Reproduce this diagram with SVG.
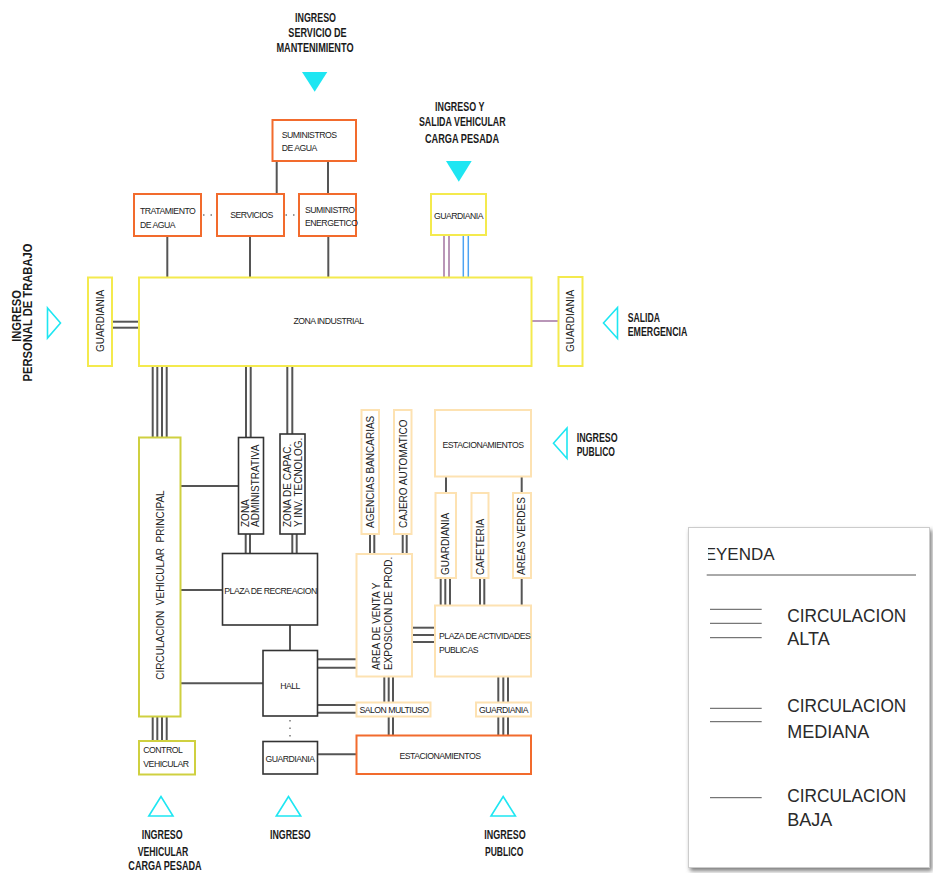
<svg xmlns="http://www.w3.org/2000/svg" width="933" height="873" viewBox="0 0 933 873">
<defs>
<style>
.t{font-family:"Liberation Sans",Arial,sans-serif;font-size:8.7px;fill:#222;letter-spacing:-0.5px}
.v{font-family:"Liberation Sans",Arial,sans-serif;font-size:10px;fill:#222}
.m{text-anchor:middle}
.b{font-family:"Liberation Sans",Arial,sans-serif;font-size:12.5px;font-weight:bold;fill:#1a1a1a}
.lg{font-family:"Liberation Sans",Arial,sans-serif;font-size:18px;fill:#2a2a2a}
.or{fill:#fff;stroke:#f26b2d;stroke-width:2}
.ye{fill:#fff;stroke:#f4ea4e;stroke-width:2}
.ol{fill:#fff;stroke:#cfd040;stroke-width:2}
.bk{fill:#fff;stroke:#333;stroke-width:1.6}
.pe{fill:#fff;stroke:#fde2b2;stroke-width:2}
.c line{stroke:#555;stroke-width:2}
.pu{stroke:#a273a0 !important;stroke-width:1.5 !important}
.bl{stroke:#4da3f2 !important;stroke-width:1.5 !important}
.dot{stroke:#777 !important;stroke-width:1.5 !important;stroke-dasharray:1.5 6}
.tf{fill:#1ee6f2}
.to{fill:none;stroke:#1ee6f2;stroke-width:1.6}
.lgl{stroke:#555;stroke-width:1}
</style>
<filter id="sh" x="-10%" y="-10%" width="130%" height="130%">
<feDropShadow dx="2" dy="3" stdDeviation="2" flood-color="#555" flood-opacity="0.75"/>
</filter>
<clipPath id="lgclip"><rect x="708" y="530" width="220" height="40"/></clipPath>
</defs>
<rect width="933" height="873" fill="#fff"/>

<g id="connectors" class="c">
<line x1="276.7" y1="161" x2="276.7" y2="194"/>
<line x1="328" y1="161" x2="328" y2="194"/>
<line x1="167.3" y1="236" x2="167.3" y2="278"/>
<line x1="250" y1="236" x2="250" y2="278"/>
<line x1="328.3" y1="236" x2="328.3" y2="278"/>
<line class="dot" x1="203" y1="215" x2="216" y2="215"/>
<line class="dot" x1="285.5" y1="215" x2="298" y2="215"/>
<line class="pu" x1="444" y1="235" x2="444" y2="277"/>
<line class="pu" x1="449" y1="235" x2="449" y2="277"/>
<line class="bl" x1="463.3" y1="235" x2="463.3" y2="277"/>
<line class="bl" x1="468.3" y1="235" x2="468.3" y2="277"/>
<line x1="112" y1="321.7" x2="139" y2="321.7"/>
<line x1="112" y1="327.7" x2="139" y2="327.7"/>
<line class="pu" x1="531" y1="321" x2="559" y2="321"/>
<line x1="152.7" y1="366" x2="152.7" y2="438"/>
<line x1="157.3" y1="366" x2="157.3" y2="438"/>
<line x1="162" y1="366" x2="162" y2="438"/>
<line x1="166.7" y1="366" x2="166.7" y2="438"/>
<line x1="246" y1="366" x2="246" y2="438"/>
<line x1="250.7" y1="366" x2="250.7" y2="438"/>
<line x1="287.3" y1="366" x2="287.3" y2="434"/>
<line x1="292.3" y1="366" x2="292.3" y2="434"/>
<line x1="180" y1="486" x2="238.5" y2="486"/>
<line x1="180" y1="590" x2="222.5" y2="590"/>
<line x1="180" y1="683.3" x2="263" y2="683.3"/>
<line x1="152.7" y1="716" x2="152.7" y2="741"/>
<line x1="157.3" y1="716" x2="157.3" y2="741"/>
<line x1="162" y1="716" x2="162" y2="741"/>
<line x1="166.7" y1="716" x2="166.7" y2="741"/>
<line x1="245.7" y1="534" x2="245.7" y2="553.5"/>
<line x1="250" y1="534" x2="250" y2="553.5"/>
<line x1="292.3" y1="534" x2="292.3" y2="553.5"/>
<line x1="296.7" y1="534" x2="296.7" y2="553.5"/>
<line x1="290" y1="625" x2="290" y2="650.5"/>
<line class="dot" x1="290" y1="720" x2="290" y2="741"/>
<line x1="317.5" y1="659.3" x2="356.5" y2="659.3"/>
<line x1="317.5" y1="667.7" x2="356.5" y2="667.7"/>
<line x1="317.5" y1="705" x2="356.5" y2="705"/>
<line x1="317.5" y1="712.7" x2="356.5" y2="712.7"/>
<line x1="317.5" y1="754.3" x2="356.5" y2="754.3"/>
<line x1="370" y1="534" x2="370" y2="554"/>
<line x1="374.3" y1="534" x2="374.3" y2="554"/>
<line x1="402.7" y1="534" x2="402.7" y2="554"/>
<line x1="406.7" y1="534" x2="406.7" y2="554"/>
<line x1="412" y1="627.7" x2="435" y2="627.7"/>
<line x1="412" y1="635" x2="435" y2="635"/>
<line x1="412" y1="642" x2="435" y2="642"/>
<line x1="384.3" y1="676.5" x2="384.3" y2="702.5"/>
<line x1="388.7" y1="676.5" x2="388.7" y2="702.5"/>
<line x1="393" y1="676.5" x2="393" y2="702.5"/>
<line x1="388.7" y1="716.5" x2="388.7" y2="735.5"/>
<line x1="393" y1="716.5" x2="393" y2="735.5"/>
<line x1="498.3" y1="676.5" x2="498.3" y2="702.5"/>
<line x1="503.3" y1="676.5" x2="503.3" y2="702.5"/>
<line x1="508" y1="676.5" x2="508" y2="702.5"/>
<line x1="498.3" y1="716.5" x2="498.3" y2="735.5"/>
<line x1="503.3" y1="716.5" x2="503.3" y2="735.5"/>
<line x1="508" y1="716.5" x2="508" y2="735.5"/>
<line x1="446" y1="476.5" x2="446" y2="493"/>
<line x1="521.7" y1="476.5" x2="521.7" y2="493"/>
<line x1="440.7" y1="578" x2="440.7" y2="605.5"/>
<line x1="445.3" y1="578" x2="445.3" y2="605.5"/>
<line x1="450" y1="578" x2="450" y2="605.5"/>
<line x1="480" y1="578" x2="480" y2="605.5"/>
<line x1="484.3" y1="578" x2="484.3" y2="605.5"/>
<line x1="521.7" y1="578" x2="521.7" y2="605.5"/>
</g>

<g id="suministros-agua"><rect class="or" x="272.5" y="120" width="83.5" height="41"/><text class="t" x="281.7" y="137.5">SUMINISTROS</text><text class="t" x="281.7" y="150.5">DE AGUA</text></g>
<g id="tratamiento-agua"><rect class="or" x="134" y="194" width="67" height="42"/><text class="t" x="140" y="214">TRATAMIENTO</text><text class="t" x="140" y="227.5">DE AGUA</text></g>
<g id="servicios"><rect class="or" x="217" y="194" width="67" height="42"/><text class="t m" x="251.5" y="217.5">SERVICIOS</text></g>
<g id="suministro-energetico"><rect class="or" x="299" y="194" width="57" height="42"/><text class="t" x="305" y="212.5">SUMINISTRO</text><text class="t" x="305" y="225.5">ENERGETICO</text></g>
<g id="guardiania-carga"><rect class="ye" x="431" y="194" width="55" height="41"/><text class="t m" x="458.5" y="219">GUARDIANIA</text></g>
<g id="zona-industrial"><rect class="ye" x="139" y="277.5" width="392.5" height="88.5"/><text class="t m" x="328.5" y="324">ZONA INDUSTRIAL</text></g>
<g id="guardiania-personal"><rect class="ye" x="88" y="277.5" width="24" height="88.5"/><text class="v m" transform="translate(103.5,321) rotate(-90)">GUARDIANIA</text></g>
<g id="guardiania-emergencia"><rect class="ye" x="558.5" y="277" width="24" height="89"/><text class="v m" transform="translate(574,321) rotate(-90)">GUARDIANIA</text></g>
<g id="circulacion-vehicular"><rect class="ol" x="139" y="437.5" width="41.5" height="279"/><text class="v m" style="white-space:pre" transform="translate(163.5,585) rotate(-90)">CIRCULACION  VEHICULAR  PRINCIPAL</text></g>
<g id="control-vehicular"><rect class="ol" x="139" y="741" width="56" height="33.5"/><text class="t" x="143.3" y="753">CONTROL</text><text class="t" x="143.3" y="767">VEHICULAR</text></g>
<g id="zona-administrativa"><rect class="bk" x="238.5" y="437.5" width="25" height="96.5"/><text class="v" transform="translate(249,527) rotate(-90)">ZONA</text><text class="v" transform="translate(258.5,527) rotate(-90)">ADMINISTRATIVA</text></g>
<g id="zona-capacitacion"><rect class="bk" x="280" y="434" width="25" height="100"/><text class="v" transform="translate(290.7,527) rotate(-90)">ZONA DE CAPAC.</text><text class="v" transform="translate(301.7,527) rotate(-90)">Y INV. TECNOLOG.</text></g>
<g id="plaza-recreacion"><rect class="bk" x="222.5" y="553.5" width="95" height="71.5"/><text class="t m" x="270.5" y="593.5">PLAZA DE RECREACION</text></g>
<g id="hall"><rect class="bk" x="263" y="650.5" width="54.5" height="65.5"/><text class="t m" x="290" y="688.5">HALL</text></g>
<g id="guardiania-ingreso"><rect class="bk" x="263" y="741.5" width="54.5" height="32.5"/><text class="t m" x="290" y="761.5">GUARDIANIA</text></g>
<g id="agencias-bancarias"><rect class="pe" x="361.5" y="410" width="17.5" height="124"/><text class="v" transform="translate(373.8,528) rotate(-90)">AGENCIAS BANCARIAS</text></g>
<g id="cajero-automatico"><rect class="pe" x="394" y="410" width="17.5" height="124"/><text class="v" transform="translate(406.5,528) rotate(-90)">CAJERO AUTOMATICO</text></g>
<g id="estacionamientos-publico"><rect class="pe" x="435" y="410" width="96" height="66.5"/><text class="t m" x="483" y="447.5">ESTACIONAMIENTOS</text></g>
<g id="guardiania-plaza"><rect class="pe" x="435.5" y="493" width="20.5" height="85"/><text class="v" transform="translate(449,575) rotate(-90)">GUARDIANIA</text></g>
<g id="cafeteria"><rect class="pe" x="471.5" y="493" width="17" height="85"/><text class="v" transform="translate(483.7,575) rotate(-90)">CAFETERIA</text></g>
<g id="areas-verdes"><rect class="pe" x="513" y="493" width="18" height="85"/><text class="v" transform="translate(524.7,575) rotate(-90)">AREAS VERDES</text></g>
<g id="area-venta"><rect class="pe" x="356.5" y="554" width="55.5" height="122.5"/><text class="v" transform="translate(380.3,670) rotate(-90)">AREA DE VENTA Y</text><text class="v" transform="translate(392,670) rotate(-90)">EXPOSICION DE PROD.</text></g>
<g id="plaza-actividades"><rect class="pe" x="435" y="605.5" width="96" height="71"/><text class="t" x="439" y="639">PLAZA DE ACTIVIDADES</text><text class="t" x="439" y="652.5">PUBLICAS</text></g>
<g id="salon-multiuso"><rect class="pe" x="356.5" y="702.5" width="74" height="14"/><text class="t m" x="394" y="712.5">SALON MULTIUSO</text></g>
<g id="guardiania-publico"><rect class="pe" x="476" y="702.5" width="55" height="14"/><text class="t m" x="503.5" y="712.5">GUARDIANIA</text></g>
<g id="estacionamientos"><rect class="or" x="356.5" y="735.5" width="174.5" height="38.5"/><text class="t m" x="440" y="759">ESTACIONAMIENTOS</text></g>

<g id="ingreso-mantenimiento">
<text class="b m" x="315.5" y="21.7" textLength="41" lengthAdjust="spacingAndGlyphs">INGRESO</text>
<text class="b m" x="317.5" y="37" textLength="58.3" lengthAdjust="spacingAndGlyphs">SERVICIO DE</text>
<text class="b m" x="315" y="51.5" textLength="77" lengthAdjust="spacingAndGlyphs">MANTENIMIENTO</text>
<polygon class="tf" points="302,72 327.3,72 314.7,91.7"/>
</g>
<g id="ingreso-carga-pesada">
<text class="b m" x="459.7" y="111" textLength="49.3" lengthAdjust="spacingAndGlyphs">INGRESO Y</text>
<text class="b m" x="462.3" y="126" textLength="86.7" lengthAdjust="spacingAndGlyphs">SALIDA VEHICULAR</text>
<text class="b m" x="462" y="142.5" textLength="74" lengthAdjust="spacingAndGlyphs">CARGA PESADA</text>
<polygon class="tf" points="446,161 471.7,161 458.8,181.7"/>
</g>
<g id="ingreso-personal">
<text class="b m" transform="translate(20.7,316) rotate(-90)" textLength="51.7" lengthAdjust="spacingAndGlyphs">INGRESO</text>
<text class="b m" transform="translate(31.7,312.5) rotate(-90)" textLength="138" lengthAdjust="spacingAndGlyphs">PERSONAL DE TRABAJO</text>
<polygon class="to" points="47.5,308 60.5,323 47.5,338"/>
</g>
<g id="salida-emergencia">
<text class="b" x="627.7" y="321.7" textLength="32.3" lengthAdjust="spacingAndGlyphs">SALIDA</text>
<text class="b" x="627.7" y="336" textLength="59.7" lengthAdjust="spacingAndGlyphs">EMERGENCIA</text>
<polygon class="to" points="617.5,307.5 603.5,323 617.5,338.5"/>
</g>
<g id="ingreso-publico-derecha">
<text class="b" x="576.7" y="441.7" textLength="41" lengthAdjust="spacingAndGlyphs">INGRESO</text>
<text class="b" x="576.7" y="456" textLength="38.3" lengthAdjust="spacingAndGlyphs">PUBLICO</text>
<polygon class="to" points="567,428 553.5,443.3 567,458.5"/>
</g>
<g id="ingreso-vehicular-carga">
<polygon class="to" points="161,796.5 148.8,816 173,816"/>
<text class="b m" x="162.2" y="839" textLength="41" lengthAdjust="spacingAndGlyphs">INGRESO</text>
<text class="b m" x="163" y="855.5" textLength="50.7" lengthAdjust="spacingAndGlyphs">VEHICULAR</text>
<text class="b m" x="165" y="869.5" textLength="73.3" lengthAdjust="spacingAndGlyphs">CARGA PESADA</text>
</g>
<g id="ingreso-principal">
<polygon class="to" points="288.5,796.5 276.3,816 300.7,816"/>
<text class="b m" x="290.3" y="839" textLength="40.7" lengthAdjust="spacingAndGlyphs">INGRESO</text>
</g>
<g id="ingreso-publico-abajo">
<polygon class="to" points="503.2,796.5 491,816 515.4,816"/>
<text class="b m" x="505" y="839" textLength="41.3" lengthAdjust="spacingAndGlyphs">INGRESO</text>
<text class="b m" x="504.2" y="855.5" textLength="38.3" lengthAdjust="spacingAndGlyphs">PUBLICO</text>
</g>

<g id="leyenda">
<rect x="688.5" y="527.5" width="241" height="340" fill="#fff" stroke="#ccc" stroke-width="1" filter="url(#sh)"/>
<text class="lg" x="695.2" y="560" style="font-size:17px" clip-path="url(#lgclip)">LEYENDA</text>
<line class="lgl" x1="706.7" y1="575" x2="916" y2="575" stroke="#777"/>
<line class="lgl" x1="710" y1="609.3" x2="761.7" y2="609.3"/>
<line class="lgl" x1="710" y1="623.3" x2="761.7" y2="623.3"/>
<line class="lgl" x1="710" y1="637.7" x2="761.7" y2="637.7"/>
<text class="lg" x="787.3" y="621.7" textLength="119" lengthAdjust="spacingAndGlyphs">CIRCULACION</text>
<text class="lg" x="787.3" y="645">ALTA</text>
<line class="lgl" x1="710" y1="708.3" x2="761.7" y2="708.3"/>
<line class="lgl" x1="710" y1="721.7" x2="761.7" y2="721.7"/>
<text class="lg" x="787.3" y="711.7" textLength="119" lengthAdjust="spacingAndGlyphs">CIRCULACION</text>
<text class="lg" x="787.3" y="738.3">MEDIANA</text>
<line class="lgl" x1="710" y1="797.7" x2="761.7" y2="797.7"/>
<text class="lg" x="787.3" y="801.7" textLength="119" lengthAdjust="spacingAndGlyphs">CIRCULACION</text>
<text class="lg" x="787.3" y="826">BAJA</text>
</g>
</svg>
